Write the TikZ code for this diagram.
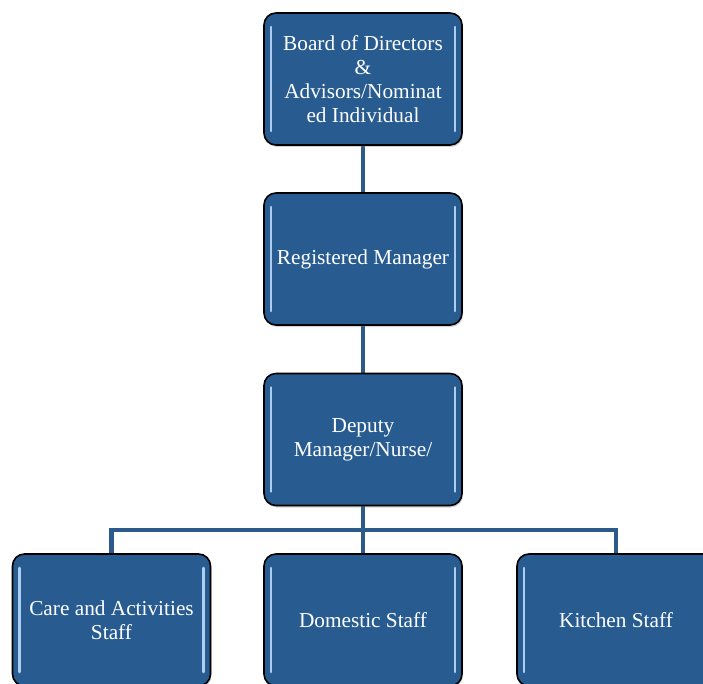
\documentclass[tikz,border=0pt]{standalone}
\usepackage{fontspec}
\setmainfont{Liberation Serif}
\usetikzlibrary{shadows}
\definecolor{boxblue}{RGB}{40,92,145}
\definecolor{lineblue}{RGB}{44,90,138}
\definecolor{shine}{RGB}{170,205,240}
\begin{document}
\begin{tikzpicture}[x=1pt,y=-1pt,
    post/.style={draw=black,line width=1.6pt,fill=boxblue,rounded corners=12pt,
        minimum width=198pt,minimum height=132pt,inner sep=2pt,align=center,
        text=white,font=\fontsize{21.3}{24}\selectfont,
        drop shadow={shadow xshift=1pt,shadow yshift=-2pt,opacity=0.35},
        path picture={
            \draw[shine,line width=2.6pt,line cap=round]
                ([xshift=7pt,yshift=-14pt]path picture bounding box.north west) --
                ([xshift=7pt,yshift=14pt]path picture bounding box.south west);
            \draw[shine,line width=2.6pt,line cap=round]
                ([xshift=-7pt,yshift=-14pt]path picture bounding box.north east) --
                ([xshift=-7pt,yshift=14pt]path picture bounding box.south east);
        }},
    link/.style={draw=lineblue,line width=4.5pt}]
        \clip (0,0) rectangle (703,684);
        \fill[white] (0,0) rectangle (703,684);
        %\draw[very thin,color=gray] (0,0) grid[step=50pt] (703,684);
        % connectors first, boxes on top
        \coordinate (board-c) at (363,79);
        \coordinate (reg-c) at (363,259);
        \coordinate (dep-c) at (363,439.5);
        \coordinate (bus) at (363,530);
        \coordinate (care-c) at (111.5,620);
        \coordinate (dom-c) at (363,620);
        \coordinate (kit-c) at (616,620);
        \draw[link] (board-c) -- (reg-c);
        \draw[link] (reg-c) -- (dep-c);
        \draw[link] (dep-c) -- (bus);
        \draw[link] (bus) -| (care-c);
        \draw[link] (bus) -| (kit-c);
        \draw[link] (bus) -- (dom-c);
        \node[post] (board) at (board-c) {Board of Directors\\ \&\\ Advisors/Nominat\\ ed Individual};
        \node[post] (reg) at (reg-c) {Registered Manager};
        \node[post] (dep) at (dep-c) {Deputy\\ Manager/Nurse/};
        \node[post] (care) at (care-c) {Care and Activities\\ Staff};
        \node[post] (dom) at (dom-c) {Domestic Staff};
        \node[post] (kit) at (kit-c) {Kitchen Staff};
    \end{tikzpicture}
\end{document}
